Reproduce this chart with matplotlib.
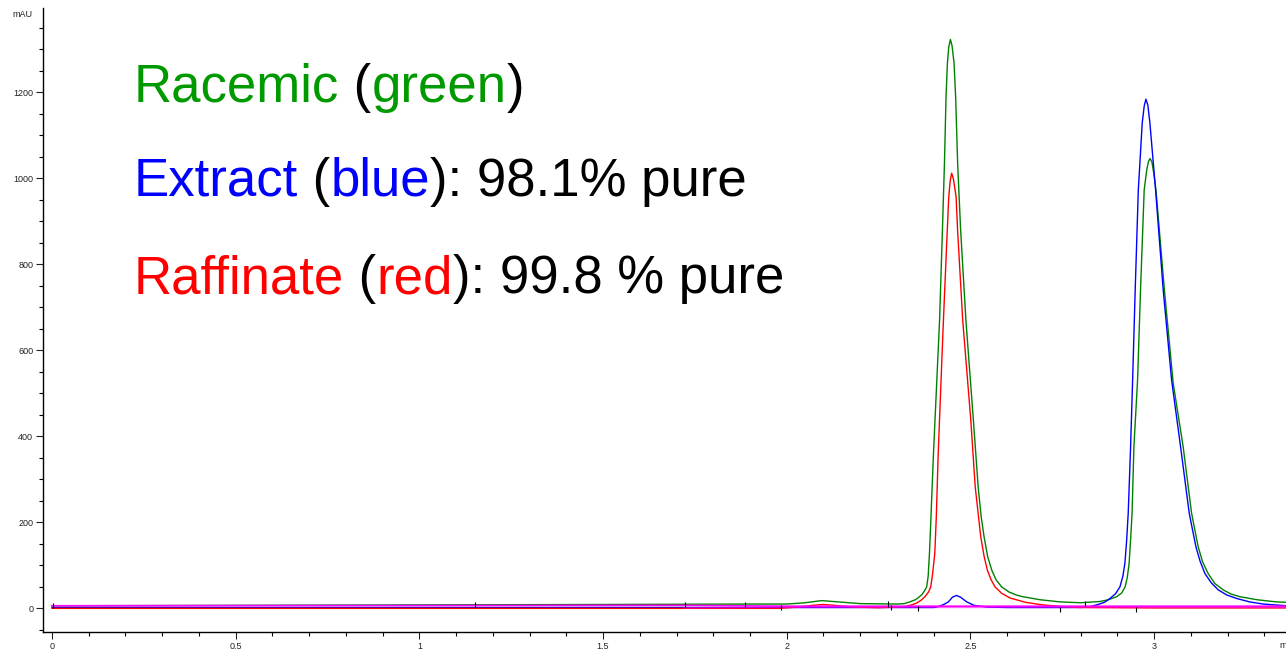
import matplotlib
matplotlib.use("Agg")
import matplotlib.pyplot as plt
from matplotlib.ticker import MultipleLocator, FuncFormatter

plt.rcParams["font.family"] = ["Liberation Sans", "DejaVu Sans"]

# chromatogram traces (time in min, signal in mAU)
green_t = [0.0, 0.5, 1.0, 1.5, 1.9, 2.0, 2.05, 2.095, 2.14, 2.2, 2.3, 2.32,
           2.335, 2.350, 2.357, 2.368, 2.376, 2.381, 2.385, 2.3885, 2.392, 2.3994,
           2.416, 2.4238, 2.4293, 2.4336, 2.4374, 2.441, 2.4455, 2.450, 2.4554,
           2.4597, 2.4652, 2.4733, 2.4877, 2.508, 2.521, 2.529, 2.537, 2.547,
           2.558, 2.570, 2.585, 2.605, 2.625, 2.643, 2.69, 2.744, 2.80, 2.853,
           2.875, 2.898, 2.912, 2.921, 2.927, 2.932, 2.936, 2.940, 2.945, 2.955,
           2.963, 2.973, 2.980, 2.985, 2.989, 2.994, 2.999, 3.005, 3.028, 3.052,
           3.079, 3.102, 3.120, 3.132, 3.147, 3.165, 3.188, 3.21, 3.234, 3.28,
           3.333, 3.36]
green_v = [6, 7, 8, 9, 10, 10, 13, 18, 15, 11, 10, 11,
           15, 20, 24, 32, 42, 50, 75, 128, 200, 360,
           670, 880, 1035, 1190, 1268, 1305, 1323, 1308, 1268,
           1190, 1035, 880, 670, 438, 283, 215, 167, 120,
           89, 66, 50, 38, 31, 27, 20, 15, 13, 16,
           20, 27, 36, 50, 72, 105, 160, 221, 376, 531,
           740, 973, 1020, 1040, 1046, 1038, 1012, 973, 740, 523,
           376, 221, 143, 108, 81, 58, 43, 33, 27, 20,
           15, 14]

blue_t = [0.0, 1.0, 2.0, 2.40, 2.408, 2.425, 2.440, 2.451, 2.462, 2.473, 2.490,
          2.51, 2.544, 2.6, 2.8, 2.825, 2.8435, 2.865, 2.880, 2.895, 2.907,
          2.915, 2.9205, 2.925, 2.9295, 2.936, 2.9415, 2.9485, 2.957, 2.9676,
          2.973, 2.9777, 2.983, 2.9886, 3.004, 3.0248, 3.0476, 3.072, 3.0956,
          3.1138, 3.125, 3.1383, 3.155, 3.1745, 3.198, 3.2245, 3.26, 3.297, 3.36]
blue_v = [2, 2, 2, 2, 3, 8, 15, 26, 30, 26, 15,
          7, 3, 2, 2, 4, 8, 14, 23, 34, 50,
          75, 105, 155, 221, 376, 531, 740, 973, 1128,
          1168, 1184, 1170, 1128, 973, 740, 531, 376, 221,
          143, 110, 81, 60, 43, 31, 23, 15, 10, 6]

red_t = [0.0, 1.0, 1.98, 2.03, 2.07, 2.099, 2.13, 2.18, 2.25, 2.32, 2.34,
         2.353, 2.366, 2.376, 2.386, 2.392, 2.397, 2.403, 2.407, 2.4123, 2.426,
         2.437, 2.441, 2.445, 2.449, 2.454, 2.461, 2.465, 2.479, 2.501, 2.513,
         2.528, 2.537, 2.546, 2.556, 2.567, 2.585, 2.608, 2.65, 2.697, 2.75,
         2.8, 3.0, 3.36]
red_v = [0, 0, 0, 3, 7, 9, 7, 3, 1.5, 4, 8,
         12, 19, 27, 38, 50, 80, 128, 210, 360, 660,
         880, 957, 995, 1012, 997, 957, 880, 670, 438, 283,
         167, 122, 89, 67, 50, 35, 24, 14, 8, 4,
         2, 1, 1]

magenta_a_t = [0.0, 1.72, 2.0, 3.36]
magenta_a_v = [6, 7, 5, 5]
magenta_b_t = [1.72, 2.0, 3.36]
magenta_b_v = [1, 2, 2]

# integration event markers (time, signal)
marker_t = [0.004, 1.151, 1.722, 1.886, 1.984, 2.275, 2.285, 2.357, 2.744, 2.811, 2.950]
marker_v = [7, 9, 9, 9, 2, 10, 1, 0, -2, 12, -3]

fig = plt.figure(figsize=(12.86, 6.5), dpi=100)
W, H = 1286, 650
ax = fig.add_axes([43 / W, 18 / H, (W - 43) / W, (632 - 8) / H])

ax.plot(green_t, green_v, color="#008000", lw=1.0, zorder=2)
ax.plot(blue_t, blue_v, color="#0000ff", lw=1.0, zorder=3)
ax.plot(red_t, red_v, color="#ff0000", lw=1.0, zorder=4)
ax.plot(magenta_a_t, magenta_a_v, color="#ff00ff", lw=1.2, zorder=5)
ax.plot(magenta_b_t, magenta_b_v, color="#ff00ff", lw=1.0, alpha=0.6, zorder=5)
ax.vlines(marker_t, [v - 6 for v in marker_v], [v + 6 for v in marker_v],
          color="black", lw=0.8, zorder=6)

ax.set_xlim(-0.0245, 3.359)
ax.set_ylim(-55, 1396)

for side in ("top", "right"):
    ax.spines[side].set_visible(False)
for side in ("left", "bottom"):
    ax.spines[side].set_linewidth(1.0)

ax.xaxis.set_major_locator(MultipleLocator(0.5))
ax.xaxis.set_minor_locator(MultipleLocator(0.1))
ax.yaxis.set_major_locator(MultipleLocator(200))
ax.yaxis.set_minor_locator(MultipleLocator(50))
ax.xaxis.set_major_formatter(FuncFormatter(lambda v, p: "%g" % v))
ax.yaxis.set_major_formatter(FuncFormatter(lambda v, p: "%g" % v))
ax.tick_params(which="major", length=5, width=0.8, labelsize=6.5, pad=2, colors="#222222")
ax.tick_params(which="minor", length=3, width=0.8)

fig.text(12 / W, 1 - 17 / H, "mAU", fontsize=6.5, color="#222222")
fig.text(1279 / W, 1 - 648 / H, "min", fontsize=6.5, color="#222222")

# legend text with coloured words
lines = [
    [("Racemic", "#009900"), (" (", "black"), ("green", "#009900"), (")", "black")],
    [("Extract", "#0000ff"), (" (", "black"), ("blue", "#0000ff"), ("): 98.1% pure", "black")],
    [("Raffinate", "#ff0000"), (" (", "black"), ("red", "#ff0000"), ("): 99.8 % pure", "black")],
]
baselines = [102, 196, 293]
renderer = fig.canvas.get_renderer()
for parts, base in zip(lines, baselines):
    x = 134
    for s, c in parts:
        t = fig.text(x / W, 1 - base / H, s, color=c, fontsize=38, va="baseline", ha="left")
        x += t.get_window_extent(renderer).width

fig.savefig("out.png", dpi=100)
